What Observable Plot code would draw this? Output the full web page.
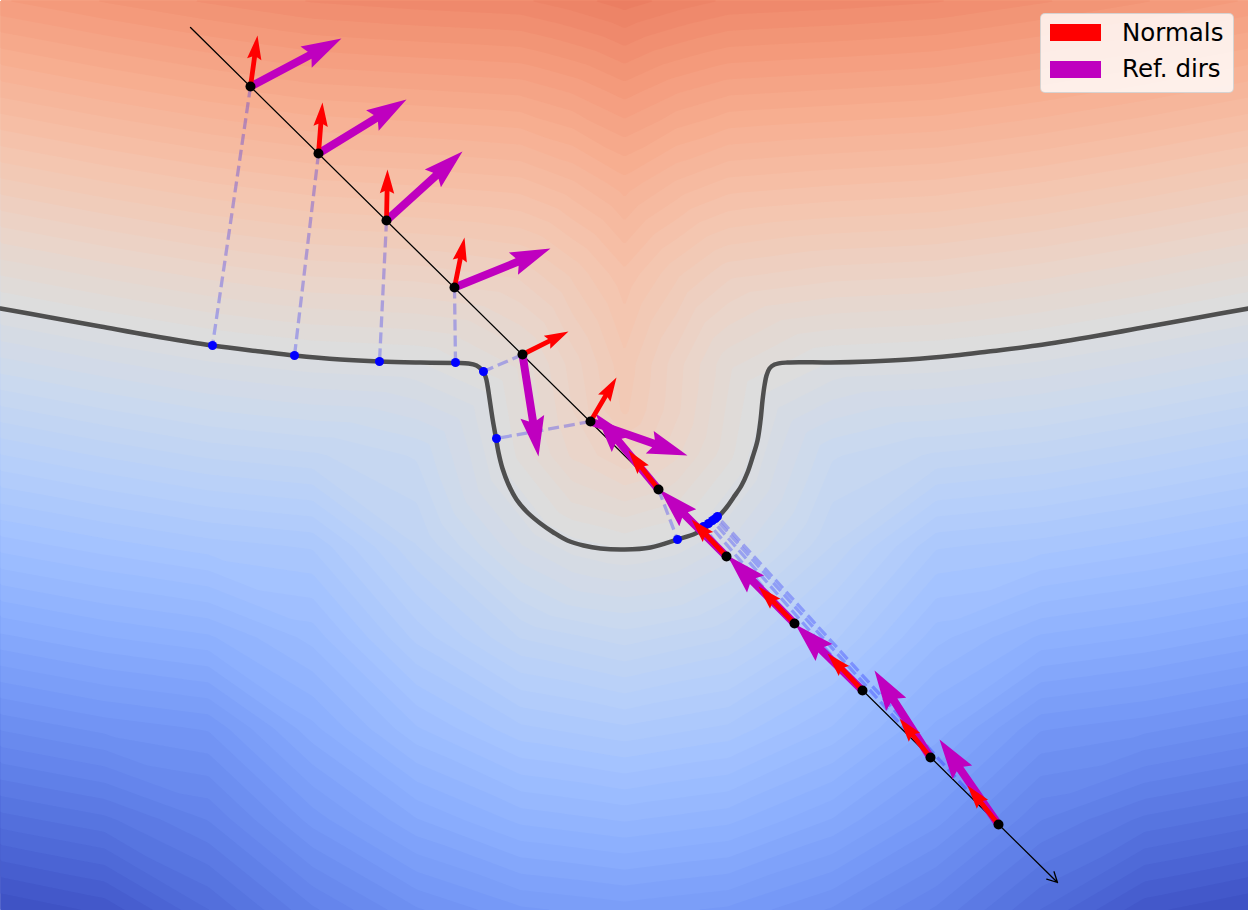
<!DOCTYPE html>
<html>
<head>
<meta charset="utf-8">
<script src="https://cdn.jsdelivr.net/npm/d3@7"></script>
<script src="https://cdn.jsdelivr.net/npm/@observablehq/plot@0.6"></script>
<style>
  body { margin: 0; background: #fff; overflow: hidden; }
  #wrap { position: relative; width: 1248px; height: 910px; font-family: "DejaVu Sans", sans-serif; }
  #legend {
    position: absolute; left: 1040px; top: 13px; width: 194px; height: 80px;
    box-sizing: border-box; background: rgba(255, 255, 255, 0.8);
    border: 1px solid rgba(204, 204, 204, 0.8); border-radius: 5px;
  }
  #legend .sw { position: absolute; left: 9px; width: 51px; height: 17px; }
  #legend .lb { position: absolute; left: 81px; font-size: 24.5px; line-height: 24px; color: #000; white-space: nowrap; }
</style>
</head>
<body>
<div id="wrap">
  <div id="chart"></div>
  <div id="legend">
    <span class="sw" style="top:10px;background:#ff0000"></span><span class="lb" style="top:7px">Normals</span>
    <span class="sw" style="top:47px;background:#bf00bf"></span><span class="lb" style="top:43px">Ref. dirs</span>
  </div>
</div>
<script>
const gridX = [-6.24, -5.2, -4.16, -3.12, -2.08, -1.04, 0, 1.04, 2.08, 3.12, 4.16, 5.2, 6.24];
const gridY = [4.55, 3.64, 2.73, 1.82, 0.91, 0, -0.91, -1.82, -2.73, -3.64, -4.55];
const fieldRows = [
  [3.03, 3.22, 3.39, 3.54, 3.61, 3.66, 3.93, 3.66, 3.61, 3.54, 3.39, 3.22, 3.03],
  [2.14, 2.33, 2.50, 2.64, 2.70, 2.76, 3.11, 2.76, 2.70, 2.64, 2.50, 2.33, 2.14],
  [1.24, 1.43, 1.60, 1.73, 1.79, 1.87, 2.34, 1.87, 1.79, 1.73, 1.60, 1.43, 1.24],
  [0.34, 0.53, 0.70, 0.83, 0.88, 1.01, 1.72, 1.01, 0.88, 0.83, 0.70, 0.53, 0.34],
  [-0.55, -0.36, -0.19, -0.08, -0.03, 0.36, 1.39, 0.36, -0.03, -0.08, -0.19, -0.36, -0.55],
  [-1.45, -1.26, -1.09, -0.99, -0.78, 0.21, 0.94, 0.21, -0.78, -0.99, -1.09, -1.26, -1.45],
  [-2.34, -2.16, -2.00, -1.90, -1.13, -0.34, 0.03, -0.34, -1.13, -1.90, -2.00, -2.16, -2.34],
  [-3.24, -3.05, -2.91, -2.50, -1.71, -1.11, -0.88, -1.11, -1.71, -2.50, -2.91, -3.05, -3.24],
  [-4.14, -3.95, -3.82, -3.09, -2.42, -1.96, -1.79, -1.96, -2.42, -3.09, -3.82, -3.95, -4.14],
  [-5.03, -4.84, -4.47, -3.77, -3.21, -2.83, -2.70, -2.83, -3.21, -3.77, -4.47, -4.84, -5.03],
  [-5.93, -5.72, -5.13, -4.52, -4.03, -3.72, -3.61, -3.72, -4.03, -4.52, -5.13, -5.72, -5.93]
];
// extra samples around the well
const wellX = [-0.52, 0.52, -0.52, 0.52, 0, -0.52, 0.52, -0.52, 0.52, -0.52, 0.52, -0.52, 0.52, -1.56, 1.56, -1.56, 1.56, -0.52, 0.52, -0.52, 0.52, 0, -0.52, 0.52];
const wellY = [0, 0, 0.91, 0.91, -0.45, -0.45, -0.45, 1.82, 1.82, 2.73, 2.73, -1.45, -1.45, 0.45, 0.45, -0.45, -0.45, 3.64, 3.64, 4.55, 4.55, 0.45, 0.45, 0.45];
const wellV = [0.67, 0.67, 0.87, 0.87, 0.49, 0.34, 0.34, 1.32, 1.32, 2.06, 2.06, -0.58, -0.58, -0.22, -0.19, -0.45, -0.47, 2.90, 2.90, 3.78, 3.78, 1.32, 0.80, 0.84];

// zero level curve
const curveX = [-6.24, -5.74, -5.24, -4.74, -4.12, -3.64, -3.30, -2.84, -2.45, -2.04, -1.69, -1.56, -1.48, -1.43, -1.39, -1.37, -1.35, -1.32, -1.29, -1.26, -1.22, -1.16, -1.08, -0.97, -0.84, -0.71, -0.57, -0.41, -0.24, 0,
  0.26, 0.53, 0.71, 0.83, 0.93, 1.02, 1.09, 1.17, 1.23, 1.28, 1.33, 1.36, 1.38, 1.40, 1.42, 1.45, 1.50, 1.63, 2.06, 2.45, 2.84, 3.30, 3.64, 4.12, 4.74, 5.24, 5.74, 6.24];
const curveY = [1.47, 1.38, 1.29, 1.20, 1.10, 1.04, 1.00, 0.96, 0.94, 0.93, 0.925, 0.92, 0.90, 0.86, 0.79, 0.70, 0.57, 0.37, 0.20, 0.03, -0.13, -0.29, -0.44, -0.57, -0.68, -0.77, -0.85, -0.90, -0.93, -0.94,
  -0.92, -0.84, -0.78, -0.71, -0.62, -0.52, -0.42, -0.30, -0.17, -0.02, 0.15, 0.35, 0.55, 0.70, 0.80, 0.87, 0.91, 0.93, 0.93, 0.94, 0.96, 1.00, 1.04, 1.10, 1.20, 1.29, 1.38, 1.47];

// ray and sample points along it
const rayX = [-4.34, 4.33];
const rayY = [4.28, -4.27];
const stepX = [-3.74, -3.06, -2.38, -1.70, -1.02, -0.34, 0.34, 1.02, 1.70, 2.38, 3.06, 3.74];
const stepY = [3.69, 3.02, 2.35, 1.68, 1.01, 0.34, -0.34, -1.01, -1.68, -2.35, -3.02, -3.69];
// closest points on the curve
const footX = [-4.12, -3.30, -2.45, -1.69, -1.41, -1.28, 0.53, 0.79, 0.84, 0.88, 0.91, 0.93];
const footY = [1.10, 1.00, 0.94, 0.93, 0.84, 0.17, -0.84, -0.71, -0.68, -0.65, -0.63, -0.61];
// normals and reference directions
const normalU = [0.07, 0.04, 0.01, 0.10, 0.46, 0.26, -0.30, -0.35, -0.36, -0.35, -0.31, -0.31];
const normalV = [0.51, 0.51, 0.51, 0.50, 0.23, 0.44, 0.39, 0.37, 0.37, 0.37, 0.39, 0.39];
const refU = [0.91, 0.88, 0.76, 0.96, 0.16, 0.97, -0.63, -0.67, -0.67, -0.67, -0.56, -0.59];
const refV = [0.48, 0.54, 0.69, 0.39, -1.02, -0.34, 0.76, 0.67, 0.68, 0.66, 0.87, 0.85];

const coolwarmStops = ["#3b4cc0", "#4d68d7", "#6282ea", "#779af7", "#8db0fe", "#a3c2ff", "#b8d0f9", "#cbd9ee", "#dddddd",
  "#ecd3c6", "#f5c4ad", "#f7b194", "#f49a7b", "#ec7f63", "#de604d", "#cb3e38", "#b40426"];
const coolwarm = d3.piecewise(d3.interpolateRgb, coolwarmStops);

const width = 1248, height = 910;
const xDomain = [-6.24, 6.24], yDomain = [-4.55, 4.55];
const k = width / (xDomain[1] - xDomain[0]); // px per unit

const samples = [];
fieldRows.forEach((row, j) => row.forEach((v, i) => samples.push({x: gridX[i], y: gridY[j], v})));
wellX.forEach((x, i) => samples.push({x, y: wellY[i], v: wellV[i]}));

const curve = curveX.map((x, i) => ({x, y: curveY[i]}));
const pts = stepX.map((x, i) => ({
  x, y: stepY[i], fx: footX[i], fy: footY[i],
  nu: normalU[i], nv: normalV[i], ru: refU[i], rv: refV[i]
}));
const ray = [{x1: rayX[0], y1: rayY[0], x2: rayX[1], y2: rayY[1]}];

// filled quiver-style arrow, drawn pointing up from the origin
function quiver(w) {
  return {
    draw(context, l) {
      const hl = Math.min(5 * w, l), ha = 0.9 * hl;
      context.moveTo(-w / 2, 0);
      context.lineTo(-w / 2, -(l - ha));
      context.lineTo(-1.5 * w, -(l - hl));
      context.lineTo(0, -l);
      context.lineTo(1.5 * w, -(l - hl));
      context.lineTo(w / 2, -(l - ha));
      context.lineTo(w / 2, 0);
      context.closePath();
    }
  };
}

const deg = 180 / Math.PI;

const chart = Plot.plot({
  width,
  height,
  margin: 0,
  x: {domain: xDomain, axis: null},
  y: {domain: yDomain, axis: null},
  color: {type: "linear", domain: [-6.1, 6.1], interpolate: coolwarm, clamp: true},
  length: {type: "identity"},
  marks: [
    Plot.contour(samples, {
      x: "x", y: "y", fill: "v",
      interpolate: "barycentric",
      thresholds: d3.range(-6.24, 4.2, 0.16),
      stroke: "none",
      clip: true
    }),
    Plot.line(curve, {x: "x", y: "y", stroke: "#4f4f4f", strokeWidth: 4.5, curve: "catmull-rom"}),
    Plot.link(pts, {
      x1: "x", y1: "y", x2: "fx", y2: "fy",
      stroke: "#0000ff", strokeOpacity: 0.26, strokeWidth: 3.3, strokeDasharray: "11,5"
    }),
    Plot.arrow(ray, {
      x1: "x1", y1: "y1", x2: "x2", y2: "y2",
      stroke: "black", strokeWidth: 1.3, headLength: 13, headAngle: 55
    }),
    Plot.dot(pts, {x: "fx", y: "fy", r: 4.5, fill: "#0000ff"}),
    Plot.vector(pts, {
      x: "x", y: "y", anchor: "start",
      length: d => Math.hypot(d.ru, d.rv) * k,
      rotate: d => Math.atan2(d.ru, d.rv) * deg,
      shape: quiver(8), fill: "#bf00bf", stroke: "none"
    }),
    Plot.vector(pts, {
      x: "x", y: "y", anchor: "start",
      length: d => Math.hypot(d.nu, d.nv) * k,
      rotate: d => Math.atan2(d.nu, d.nv) * deg,
      shape: quiver(4.8), fill: "#ff0000", stroke: "none"
    }),
    Plot.dot(pts, {x: "x", y: "y", r: 5, fill: "black"})
  ]
});

d3.select("#chart").append(() => chart);
</script>
</body>
</html>
